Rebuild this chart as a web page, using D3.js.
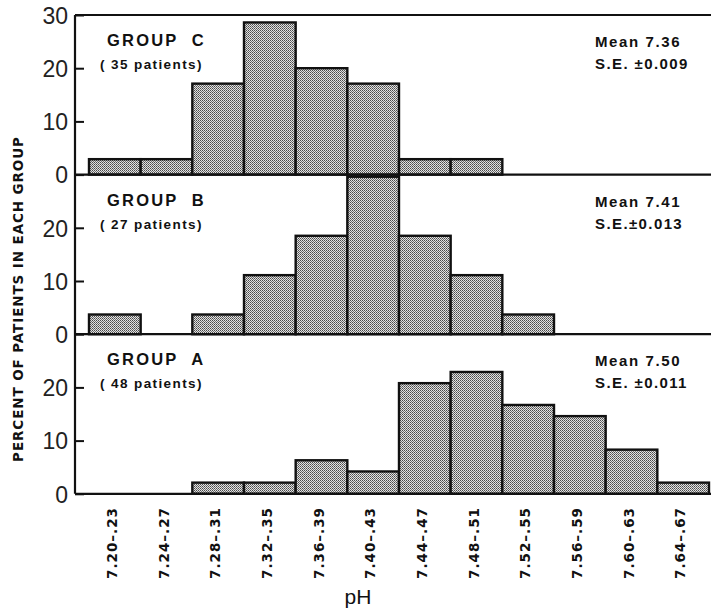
<!DOCTYPE html>
<html><head><meta charset="utf-8">
<script src="https://cdn.jsdelivr.net/npm/d3@7"></script>
<style>body{margin:0;background:#fff}svg{display:block}</style>
</head><body><svg id="c" width="711" height="609"></svg>
<script>
// ---- data ----
const categories = ["7.20-.23","7.24-.27","7.28-.31","7.32-.35","7.36-.39","7.40-.43","7.44-.47","7.48-.51","7.52-.55","7.56-.59","7.60-.63","7.64-.67"];
const groupC = [2.9, 2.9, 17.1, 28.6, 20.0, 17.1, 2.9, 2.9, 0, 0, 0, 0];
const groupB = [3.7, 0, 3.7, 11.1, 18.5, 29.6, 18.5, 11.1, 3.7, 0, 0, 0];
const groupA = [0, 0, 2.1, 2.1, 6.3, 4.2, 20.8, 22.9, 16.7, 14.6, 8.3, 2.1];
const groupNames = ["GROUP  C", "GROUP  B", "GROUP  A"];
const patientLabels = ["( 35 patients)", "( 27 patients)", "( 48 patients)"];
const meanLabels = ["Mean 7.36", "Mean 7.41", "Mean 7.50"];
const seLabels = ["S.E. \u00B10.009", "S.E.\u00B10.013", "S.E. \u00B10.011"];
const yTicksTop = [0, 10, 20, 30];
const yTicksOther = [0, 10, 20];
const series = [groupC, groupB, groupA];

// ---- layout ----
const svg = d3.select("#c");
const axisX = 75, plotTop = 15, panelH = 159.6;
const x = d3.scaleBand().domain(categories).range([89, 709]).padding(0);

const defs = svg.append("defs");
const pat = defs.append("pattern").attr("id","dots").attr("width",2).attr("height",2).attr("patternUnits","userSpaceOnUse");
pat.append("rect").attr("width",2).attr("height",2).attr("fill","#e2e2e2");
pat.append("rect").attr("x",0).attr("y",0).attr("width",1).attr("height",1).attr("fill","#4a4a4a");
pat.append("rect").attr("x",1).attr("y",1).attr("width",1).attr("height",1).attr("fill","#707070");

const numFont = "'Liberation Sans', Arial, sans-serif";
const boldFont = "'DejaVu Sans', sans-serif";
const labFont = "'Liberation Sans', Arial, sans-serif";

series.forEach((vals, i) => {
  const y0 = plotTop + panelH * i;
  const y = d3.scaleLinear().domain([0, 30]).range([y0 + panelH, y0]);
  const g = svg.append("g");
  g.selectAll("rect.bar").data(vals.map((v, j) => ({c: categories[j], v})).filter(d => d.v > 0))
    .enter().append("rect").attr("class","bar")
    .attr("x", d => x(d.c)).attr("width", x.bandwidth())
    .attr("y", d => y(d.v)).attr("height", d => y(0) - y(d.v))
    .attr("fill","url(#dots)").attr("stroke","#111").attr("stroke-width",2.4);
  g.append("line").attr("x1", axisX).attr("x2", 711).attr("y1", y(0)).attr("y2", y(0))
    .attr("stroke","#111").attr("stroke-width",2.2);
  const ticks = i === 0 ? yTicksTop : yTicksOther;
  const ax = d3.axisLeft(y).tickValues(ticks).tickSize(-9).tickPadding(16).tickFormat(d3.format("d"));
  const ag = g.append("g").attr("transform", `translate(${axisX},0)`).call(ax);
  ag.select(".domain").remove();
  ag.selectAll(".tick line").attr("stroke","#111").attr("stroke-width",2);
  ag.selectAll(".tick text").attr("font-family", numFont).attr("font-size", 23).attr("fill","#222")
    .attr("x", -7).attr("dy","0.36em");
  g.append("text").attr("x", 107).attr("y", y0 + 31).attr("font-family", labFont).attr("font-weight","bold")
    .attr("font-size", 16.5).attr("letter-spacing", 2.2).attr("fill","#111")
    .style("white-space","pre").text(groupNames[i]);
  g.append("text").attr("x", 100).attr("y", y0 + 54).attr("font-family", labFont).attr("font-weight","bold")
    .attr("font-size", 13.5).attr("letter-spacing", 1.4).attr("fill","#111")
    .style("white-space","pre").text(patientLabels[i]);
  g.append("text").attr("x", 595).attr("y", y0 + 32).attr("font-family", labFont).attr("font-weight","bold")
    .attr("font-size", 15).attr("letter-spacing", 1.6).attr("fill","#111").text(meanLabels[i]);
  g.append("text").attr("x", 595).attr("y", y0 + 54).attr("font-family", labFont).attr("font-weight","bold")
    .attr("font-size", 15).attr("letter-spacing", 1.4).attr("fill","#111").text(seLabels[i]);
});

svg.append("line").attr("x1", axisX).attr("x2", axisX).attr("y1", plotTop).attr("y2", plotTop + panelH * 3)
  .attr("stroke","#111").attr("stroke-width",2.2);
svg.append("line").attr("x1", axisX).attr("x2", 711).attr("y1", plotTop).attr("y2", plotTop)
  .attr("stroke","#111").attr("stroke-width",2);

svg.append("g").selectAll("text").data(categories).enter().append("text")
  .attr("transform", d => `translate(${x(d) + x.bandwidth()/2 + 2},507) rotate(-90)`)
  .attr("text-anchor","end").attr("font-family", boldFont).attr("font-weight","bold")
  .attr("font-size", 13.5).attr("letter-spacing", 1).attr("fill","#111")
  .text(d => d.replace("-", "\u2013"));

svg.append("text").attr("x", 358).attr("y", 604).attr("text-anchor","middle")
  .attr("font-family", numFont).attr("font-size", 21).attr("fill","#111").text("pH");
svg.append("text").attr("transform","translate(23,299) rotate(-90)").attr("text-anchor","middle")
  .attr("font-family", boldFont).attr("font-weight","bold").attr("font-size", 13.5)
  .attr("letter-spacing", 0.9).attr("fill","#111").text("PERCENT OF PATIENTS IN EACH GROUP");
</script></body></html>
